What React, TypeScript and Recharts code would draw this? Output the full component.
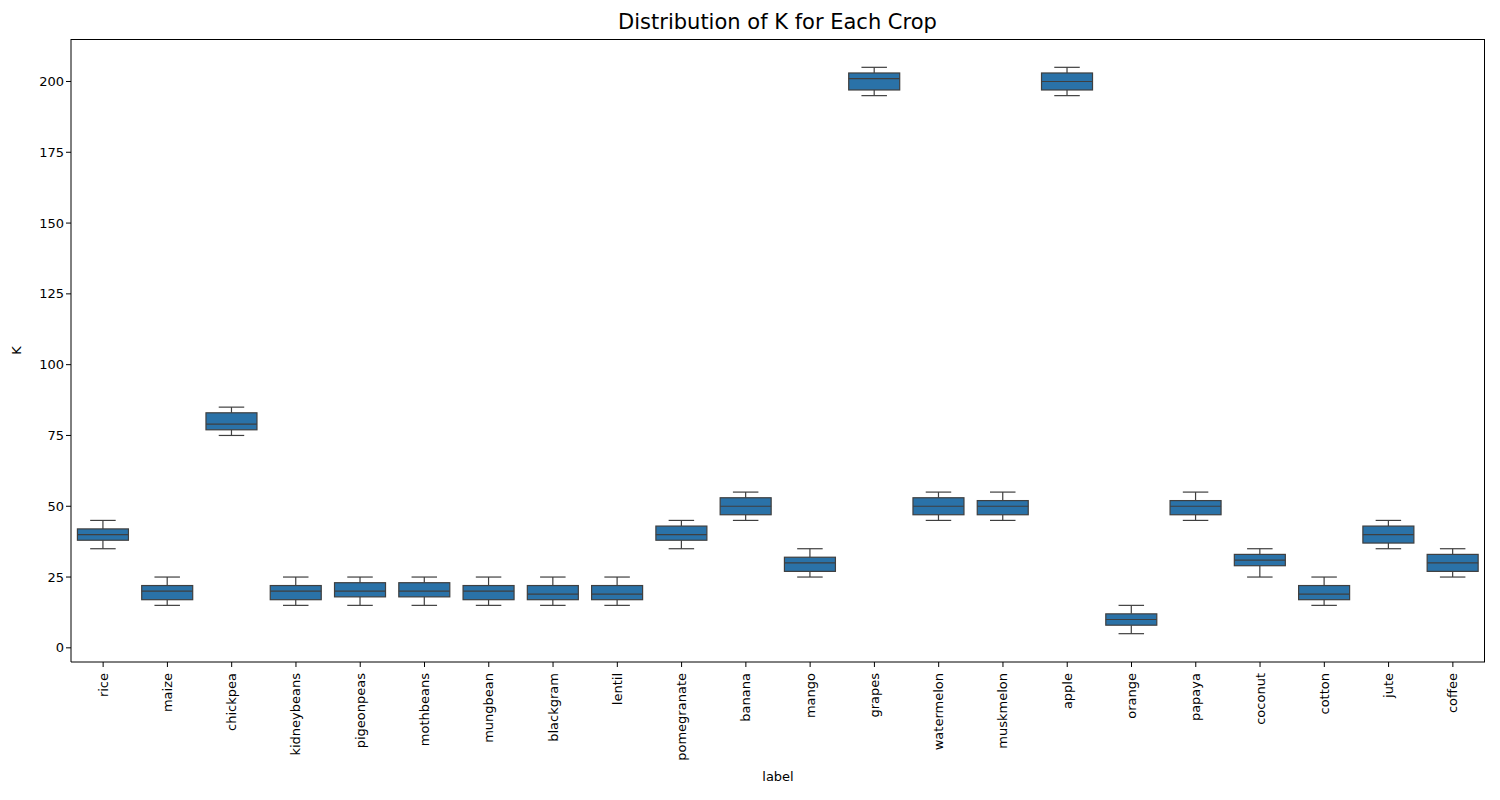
import { Bar, ComposedChart, XAxis, YAxis } from 'recharts';

const crops = ['rice', 'maize', 'chickpea', 'kidneybeans', 'pigeonpeas', 'mothbeans', 'mungbean', 'blackgram', 'lentil', 'pomegranate', 'banana', 'mango', 'grapes', 'watermelon', 'muskmelon', 'apple', 'orange', 'papaya', 'coconut', 'cotton', 'jute', 'coffee'];
const mins = [35, 15, 75, 15, 15, 15, 15, 15, 15, 35, 45, 25, 195, 45, 45, 195, 5, 45, 25, 15, 35, 25];
const q1s = [38, 17, 77, 17, 18, 18, 17, 17, 17, 38, 47, 27, 197, 47, 47, 197, 8, 47, 29, 17, 37, 27];
const medians = [40, 20, 79, 20, 20, 20, 20, 19, 19, 40, 50, 30, 201, 50, 50, 200, 10, 50, 31, 19, 40, 30];
const q3s = [42, 22, 83, 22, 23, 23, 22, 22, 22, 43, 53, 32, 203, 53, 52, 203, 12, 52, 33, 22, 43, 33];
const maxs = [45, 25, 85, 25, 25, 25, 25, 25, 25, 45, 55, 35, 205, 55, 55, 205, 15, 55, 35, 25, 45, 35];
const yTicks = [0, 25, 50, 75, 100, 125, 150, 175, 200];

const data = crops.map((label, i) => ({
  label,
  range: [mins[i], maxs[i]],
  min: mins[i],
  q1: q1s[i],
  median: medians[i],
  q3: q3s[i],
  max: maxs[i],
}));

const FONT = 'DejaVu Sans, sans-serif';
const EDGE = '#3f3f3f';

function BoxShape(props: any) {
  const { x, y, width, height, payload } = props;
  const k = height / (payload.max - payload.min);
  const py = (v: number) => y + (payload.max - v) * k;
  const cx = x + width / 2;
  const cap = width / 4;
  return (
    <g stroke={EDGE} strokeWidth={1.2} fill="none">
      <line x1={cx} x2={cx} y1={py(payload.max)} y2={py(payload.q3)} />
      <line x1={cx} x2={cx} y1={py(payload.q1)} y2={py(payload.min)} />
      <line x1={cx - cap} x2={cx + cap} y1={py(payload.max)} y2={py(payload.max)} />
      <line x1={cx - cap} x2={cx + cap} y1={py(payload.min)} y2={py(payload.min)} />
      <rect x={x} y={py(payload.q3)} width={width} height={py(payload.q1) - py(payload.q3)} fill="#2a72a8" />
      <line x1={x} x2={x + width} y1={py(payload.median)} y2={py(payload.median)} />
    </g>
  );
}

function XTick(props: any) {
  const { x, y, payload } = props;
  return (
    <text x={x} y={y + 4} transform={`rotate(-90, ${x}, ${y + 4})`} textAnchor="end" dominantBaseline="central" fontSize={13} fontFamily={FONT} fill="#000">
      {payload.value}
    </text>
  );
}

export default function App() {
  return (
    <div style={{ position: 'absolute', left: 0, top: 0, width: 1500, height: 800, background: '#fff' }}>
      <div style={{ position: 'absolute', top: 10, width: 1555, textAlign: 'center', fontFamily: FONT, fontSize: 21 }}>
        Distribution of K for Each Crop
      </div>
      <div style={{ position: 'absolute', top: 769, left: 71, width: 1414, textAlign: 'center', fontFamily: FONT, fontSize: 13 }}>
        label
      </div>
      <div style={{ position: 'absolute', left: 12, top: 343, fontFamily: FONT, fontSize: 13, transform: 'rotate(-90deg)' }}>
        K
      </div>
      <ComposedChart width={1500} height={800} data={data} margin={{ top: 39, right: 15, bottom: 0, left: 0 }} barCategoryGap="10%">
        <XAxis dataKey="label" interval={0} height={138} tick={<XTick />} tickSize={5} stroke="#000" tickLine={{ stroke: '#000' }} axisLine={{ stroke: '#000' }} />
        <YAxis domain={[-5, 215]} ticks={yTicks} width={71} tickSize={5} tick={{ fontSize: 13, fontFamily: FONT, fill: '#000' }} stroke="#000" />
        <Bar dataKey="range" shape={<BoxShape />} isAnimationActive={false} />
      </ComposedChart>
      <div style={{ position: 'absolute', left: 71, top: 39, width: 1414, height: 623, boxSizing: 'border-box', borderTop: '1px solid #000', borderRight: '1px solid #000', pointerEvents: 'none' }} />
    </div>
  );
}
